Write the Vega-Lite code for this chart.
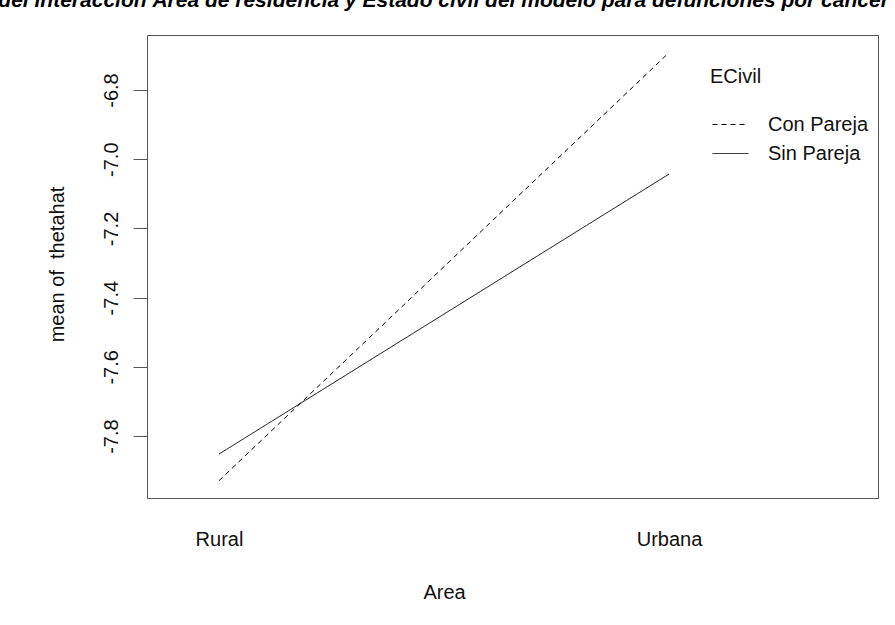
{
  "$schema": "https://vega.github.io/schema/vega-lite/v6.json",
  "width": 731,
  "height": 463,
  "autosize": {"type": "none"},
  "padding": {"left": 147, "top": 35, "right": 17, "bottom": 127},
  "background": "white",
  "title": {
    "text": "Gráfico del interacción Área de residencia y Estado civil del modelo para defunciones por cáncer",
    "anchor": "start",
    "frame": "group",
    "dx": -228,
    "offset": 7,
    "baseline": "alphabetic",
    "font": "Liberation Sans",
    "fontSize": 21,
    "fontWeight": "bold",
    "fontStyle": "italic",
    "color": "black"
  },
  "data": {
    "values": [
      {"Area": "Rural", "ECivil": "Con Pareja", "thetahat": -7.929},
      {"Area": "Urbana", "ECivil": "Con Pareja", "thetahat": -6.692},
      {"Area": "Rural", "ECivil": "Sin Pareja", "thetahat": -7.852},
      {"Area": "Urbana", "ECivil": "Sin Pareja", "thetahat": -7.043}
    ]
  },
  "mark": {"type": "line", "color": "black", "strokeWidth": 1},
  "encoding": {
    "x": {
      "field": "Area",
      "type": "ordinal",
      "scale": {"type": "point", "range": [72, 522], "padding": 0},
      "axis": {
        "title": "Area",
        "ticks": false,
        "tickSize": 0,
        "domain": false,
        "labelAngle": 0,
        "labelPadding": 47,
        "labelBaseline": "alphabetic",
        "labelFont": "Liberation Sans",
        "labelFontSize": 20,
        "labelColor": "#111",
        "titleFont": "Liberation Sans",
        "titleFontSize": 20,
        "titleFontWeight": "normal",
        "titleColor": "#111",
        "titleBaseline": "alphabetic",
        "titleY": 100
      }
    },
    "y": {
      "field": "thetahat",
      "type": "quantitative",
      "scale": {"domain": [-7.979, -6.641], "nice": false, "zero": false},
      "axis": {
        "title": "mean of \u00a0thetahat",
        "values": [-7.8, -7.6, -7.4, -7.2, -7.0, -6.8],
        "format": ".1f",
        "labelExpr": "replace(datum.label, '−', '-')",
        "domain": false,
        "grid": false,
        "tickSize": 14,
        "tickColor": "#555",
        "tickWidth": 1,
        "labelAngle": 270,
        "labelAlign": "center",
        "labelBaseline": "alphabetic",
        "labelPadding": 16,
        "labelFont": "Liberation Sans",
        "labelFontSize": 20,
        "labelColor": "#111",
        "titleFont": "Liberation Sans",
        "titleFontSize": 20,
        "titleFontWeight": "normal",
        "titleColor": "#111",
        "titleAngle": 270,
        "titleAlign": "center",
        "titleBaseline": "alphabetic",
        "titleX": -84,
        "titleY": 229
      }
    },
    "strokeDash": {
      "field": "ECivil",
      "type": "nominal",
      "scale": {"domain": ["Con Pareja", "Sin Pareja"], "range": [[5, 4], [1, 0]]},
      "legend": {
        "title": "ECivil",
        "orient": "none",
        "legendX": 563,
        "legendY": 32,
        "padding": 0,
        "titleFont": "Liberation Sans",
        "titleFontSize": 20,
        "titleFontWeight": "normal",
        "titleColor": "#111",
        "titlePadding": 19,
        "labelFont": "Liberation Sans",
        "labelFontSize": 20,
        "labelColor": "#111",
        "labelOffset": 19,
        "symbolType": "stroke",
        "symbolSize": 1296,
        "symbolStrokeWidth": 1,
        "symbolStrokeColor": "black",
        "symbolOffset": 2,
        "rowPadding": -18
      }
    }
  },
  "config": {
    "view": {"stroke": "#555", "strokeWidth": 1},
    "axis": {"grid": false}
  }
}
